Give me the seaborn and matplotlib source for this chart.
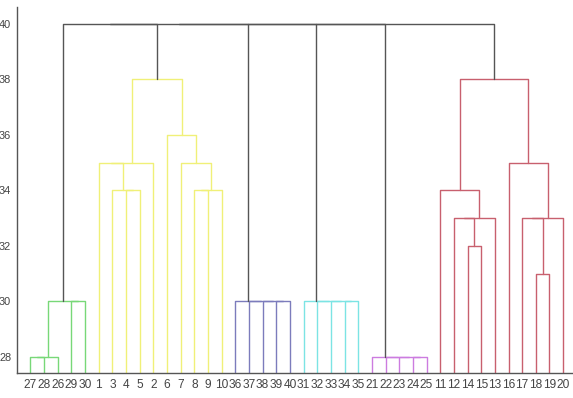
import matplotlib
matplotlib.use("Agg")
import matplotlib.pyplot as plt
import seaborn as sns
import pandas as pd

# ---- data ----
leaf_order = [27, 28, 26, 29, 30, 1, 3, 4, 5, 2, 6, 7, 8, 9, 10,
              36, 37, 38, 39, 40, 31, 32, 33, 34, 35, 21, 22, 23, 24, 25,
              11, 12, 14, 15, 13, 16, 17, 18, 19, 20]

# linkage rows: node ids 1..40 are leaves, new nodes numbered from 41
merge_left = [27, 41, 29, 42,
              4, 3, 1, 47, 8, 49, 7, 6, 48,
              39, 38, 37, 36,
              34, 33, 32, 31,
              24, 23, 22, 21,
              14, 12, 67, 11, 18, 17, 71, 16, 69,
              44, 75, 76, 77, 78]
merge_right = [28, 26, 30, 43,
               5, 45, 46, 2, 9, 10, 50, 51, 52,
               40, 54, 55, 56,
               35, 58, 59, 60,
               25, 62, 63, 64,
               15, 66, 13, 68, 19, 70, 20, 72, 73,
               53, 57, 61, 65, 74]
merge_height = [28, 28, 30, 30,
                34, 34, 35, 35, 34, 34, 35, 36, 38,
                30, 30, 30, 30,
                30, 30, 30, 30,
                28, 28, 28, 28,
                32, 33, 33, 34, 31, 33, 33, 35, 38,
                40, 40, 40, 40, 40]
merge_group = (["green"] * 4 + ["yellow"] * 9 + ["blue"] * 4 + ["cyan"] * 4 +
               ["magenta"] * 4 + ["red"] * 9 + ["top"] * 5)

y_ticks = [28, 30, 32, 34, 36, 38, 40]

palette = {"green": "#78d878", "yellow": "#f0f078", "blue": "#7c7cbc",
           "cyan": "#7ce4e4", "magenta": "#cc7ce0", "red": "#c8606e",
           "top": "#555555"}

# ---- build dendrogram segments ----
xpos = {leaf: i + 1 for i, leaf in enumerate(leaf_order)}
hpos = {leaf: 0.0 for leaf in leaf_order}
rows = []
for k, (a, b, h, g) in enumerate(zip(merge_left, merge_right, merge_height, merge_group)):
    node = 41 + k
    xa, xb = xpos[a], xpos[b]
    ha, hb = hpos[a], hpos[b]
    for x, y in [(xa, ha), (xa, h), (xb, h), (xb, hb)]:
        rows.append({"x": x, "y": y, "link": k, "group": g})
    xpos[node] = (xa + xb) / 2.0
    hpos[node] = h
df = pd.DataFrame(rows)

# ---- plot ----
sns.set_style("white")
fig = plt.figure(figsize=(5.73, 3.98), dpi=100)
ax = fig.add_axes([16.8 / 573, 24.7 / 398, 560.0 / 573, 366.3 / 398])

sns.lineplot(data=df, x="x", y="y", units="link", hue="group", palette=palette,
             estimator=None, sort=False, legend=False, linewidth=1.0, ax=ax)

ax.set_xlim(0, 41)
ax.set_ylim(27.41, 40.61)
ax.set_xticks(range(1, len(leaf_order) + 1))
ax.set_xticklabels([str(v) for v in leaf_order])
ax.set_yticks(y_ticks)
ax.set_yticklabels([str(v) for v in y_ticks])
ax.set_xlabel("")
ax.set_ylabel("")

for side in ["top", "right"]:
    ax.spines[side].set_visible(False)
for side in ["left", "bottom"]:
    ax.spines[side].set_color("#555555")
    ax.spines[side].set_linewidth(1.0)

ax.tick_params(axis="x", length=0, pad=4, labelsize=8.6, labelcolor="#444444")
ax.tick_params(axis="y", length=3, width=0.8, color="#555555", direction="out",
               pad=1, labelsize=7.9, labelcolor="#444444")
for lab in ax.get_xticklabels() + ax.get_yticklabels():
    lab.set_fontfamily(["Liberation Sans", "DejaVu Sans"])

fig.savefig("out.png", dpi=100, facecolor="white")
